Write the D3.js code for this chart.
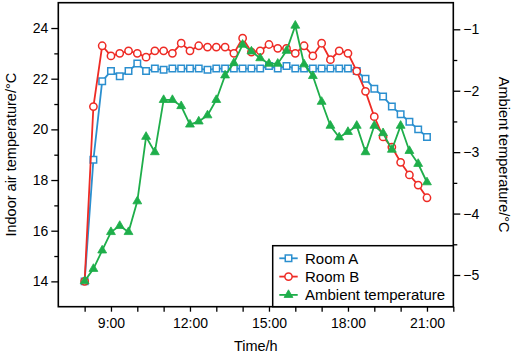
<!DOCTYPE html>
<html>
<head>
<meta charset="utf-8">
<script src="https://cdn.jsdelivr.net/npm/d3@7"></script>
<style>
  body { margin: 0; background: #fff; }
  svg { display: block; font-family: "Liberation Sans", Arial, Helvetica, sans-serif; }
  .axis path, .axis line { stroke: #000; }
  .axis text { font-size: 14px; fill: #000; }
</style>
</head>
<body>
<script>
// time of each reading (every 20 min, 8:00 to 21:00)
const times = ['8:00', '8:20', '8:40', '9:00', '9:20', '9:40', '10:00', '10:20', '10:40',
  '11:00', '11:20', '11:40', '12:00', '12:20', '12:40', '13:00', '13:20', '13:40',
  '14:00', '14:20', '14:40', '15:00', '15:20', '15:40', '16:00', '16:20', '16:40',
  '17:00', '17:20', '17:40', '18:00', '18:20', '18:40', '19:00', '19:20', '19:40',
  '20:00', '20:20', '20:40', '21:00']

const roomA = [14.0, 18.8, 21.9, 22.3, 22.1, 22.3, 22.6, 22.3, 22.4, 22.35,
  22.4, 22.4, 22.4, 22.4, 22.35, 22.4, 22.4, 22.4, 22.4, 22.4,
  22.4, 22.5, 22.4, 22.5, 22.4, 22.4, 22.4, 22.4, 22.4, 22.4,
  22.4, 22.3, 22.0, 21.6, 21.3, 20.9, 20.6, 20.3, 20.0, 19.7]

const roomB = [14.0, 20.9, 23.3, 22.9, 23.0, 23.1, 23.0, 22.85, 23.1, 23.1,
  23.0, 23.4, 23.1, 23.3, 23.25, 23.25, 23.25, 23.0, 23.6, 23.05,
  23.1, 23.35, 23.2, 23.2, 23.0, 23.3, 22.9, 23.4, 22.75, 23.1,
  23.0, 22.3, 21.5, 20.5, 19.7, 19.3, 18.7, 18.2, 17.8, 17.3]

const ambient = [-5.1, -4.9, -4.6, -4.3, -4.2, -4.3, -3.8, -2.75, -3.0, -2.15,
  -2.15, -2.25, -2.55, -2.5, -2.4, -2.15, -1.75, -1.55, -1.25, -1.36,
  -1.47, -1.56, -1.56, -1.35, -0.94, -1.57, -1.76, -2.18, -2.57, -2.76,
  -2.67, -2.57, -3.0, -2.57, -2.69, -2.96, -2.57, -2.98, -3.19, -3.49]

const xTicks = [8, 9, 10, 11, 12, 13, 14, 15, 16, 17, 18, 19, 20, 21, 22]
const xLabels = [9, 12, 15, 18, 21]
const leftMajor = [14, 16, 18, 20, 22, 24]
const leftMinor = [15, 17, 19, 21, 23]
const rightMajor = [-1, -2, -3, -4, -5]
const rightMinor = [-1.5, -2.5, -3.5, -4.5]

const seriesNames = ['Room A', 'Room B', 'Ambient temperature']
const colors = { 'Room A': '#2b8fcf', 'Room B': '#ee2b25', 'Ambient temperature': '#1eae4a' }

const w = 512
const h = 355
const margin = { top: 2.7, right: 58.7, bottom: 48.3, left: 58.3 }
const width = w - margin.left - margin.right
const height = h - margin.top - margin.bottom

const toHours = t => {
  const p = t.split(':')
  return +p[0] + (+p[1]) / 60
}

const svg = d3.select('body').append('svg')
  .attr('width', w)
  .attr('height', h)

const g = svg.append('g').attr('transform', 'translate(' + margin.left + ',' + margin.top + ')')

const x = d3.scaleLinear().domain([7, 22]).range([0, width])
const yL = d3.scaleLinear().domain([13, 25]).range([height, 0])
const yR = d3.scaleLinear().domain([-5.516, -0.567]).range([height, 0])

// axes
g.append('g')
  .attr('class', 'axis')
  .attr('transform', 'translate(0,' + height + ')')
  .call(d3.axisBottom(x).tickValues(xTicks).tickSize(5).tickPadding(6)
    .tickFormat(d => xLabels.includes(d) ? d + ':00' : ''))
  .call(a => a.select('.domain').remove())

g.append('g')
  .attr('class', 'axis')
  .call(d3.axisLeft(yL).tickValues(leftMajor).tickSize(7).tickPadding(3))
  .call(a => a.select('.domain').remove())

g.append('g')
  .attr('class', 'axis')
  .call(d3.axisLeft(yL).tickValues(leftMinor).tickSize(4).tickFormat(''))
  .call(a => a.select('.domain').remove())

g.append('g')
  .attr('class', 'axis')
  .attr('transform', 'translate(' + width + ',0)')
  .call(d3.axisRight(yR).tickValues(rightMajor).tickSize(7).tickPadding(3)
    .tickFormat(d => '\u2212' + Math.abs(d)))
  .call(a => a.select('.domain').remove())

g.append('g')
  .attr('class', 'axis')
  .attr('transform', 'translate(' + width + ',0)')
  .call(d3.axisRight(yR).tickValues(rightMinor).tickSize(4).tickFormat(''))
  .call(a => a.select('.domain').remove())

g.selectAll('.axis line').attr('stroke-width', 1.3)

// frame
g.append('rect')
  .attr('width', width)
  .attr('height', height)
  .attr('fill', 'none')
  .attr('stroke', '#000')
  .attr('stroke-width', 1.6)

// axis titles
svg.append('text')
  .attr('transform', 'translate(16,' + (margin.top + height / 2) + ') rotate(-90)')
  .attr('text-anchor', 'middle')
  .attr('font-size', 14.5)
  .text('Indoor air temperature/°C')

svg.append('text')
  .attr('transform', 'translate(499,' + (margin.top + height / 2) + ') rotate(90)')
  .attr('text-anchor', 'middle')
  .attr('font-size', 14.5)
  .text('Ambient temperature/°C')

svg.append('text')
  .attr('x', margin.left + width / 2)
  .attr('y', 351)
  .attr('text-anchor', 'middle')
  .attr('font-size', 14.5)
  .text('Time/h')

// series
const seriesData = [
  { name: 'Room A', values: roomA, y: yL, marker: 'square' },
  { name: 'Room B', values: roomB, y: yL, marker: 'circle' },
  { name: 'Ambient temperature', values: ambient, y: yR, marker: 'triangle' }
]

const symbolFor = m => m === 'square' ? d3.symbol().type(d3.symbolSquare).size(42)
  : m === 'circle' ? d3.symbol().type(d3.symbolCircle).size(42)
  : d3.symbol().type(d3.symbolTriangle).size(34)

seriesData.forEach(s => {
  const pts = s.values.map((v, i) => ({ t: toHours(times[i]), v: v }))
  const line = d3.line().x(d => x(d.t)).y(d => s.y(d.v))
  g.append('path')
    .datum(pts)
    .attr('d', line)
    .attr('fill', 'none')
    .attr('stroke', colors[s.name])
    .attr('stroke-width', 1.8)
  g.selectAll('.pt-' + s.marker)
    .data(pts)
    .enter().append('path')
    .attr('class', 'pt-' + s.marker)
    .attr('transform', d => 'translate(' + x(d.t) + ',' + s.y(d.v) + ')')
    .attr('d', symbolFor(s.marker))
    .attr('fill', s.marker === 'triangle' ? colors[s.name] : '#fff')
    .attr('stroke', colors[s.name])
    .attr('stroke-width', s.marker === 'triangle' ? 0.8 : 1.5)
})

// legend
const lg = g.append('g').attr('transform', 'translate(' + (272.7 - margin.left) + ',' + (245.7 - margin.top) + ')')
lg.append('rect')
  .attr('width', 453.3 - 272.7)
  .attr('height', 306.7 - 245.7)
  .attr('fill', '#fff')
  .attr('stroke', '#000')
  .attr('stroke-width', 1.5)

seriesData.forEach((s, i) => {
  const row = lg.append('g').attr('transform', 'translate(0,' + (12.6 + i * 18.3) + ')')
  row.append('line')
    .attr('x1', 6.6).attr('x2', 25)
    .attr('stroke', colors[s.name])
    .attr('stroke-width', 1.8)
  row.append('path')
    .attr('transform', 'translate(15.8,0)')
    .attr('d', symbolFor(s.marker))
    .attr('fill', s.marker === 'triangle' ? colors[s.name] : '#fff')
    .attr('stroke', colors[s.name])
    .attr('stroke-width', s.marker === 'triangle' ? 0.8 : 1.5)
  row.append('text')
    .attr('x', 32.3)
    .attr('dy', '0.35em')
    .attr('font-size', 15)
    .text(s.name)
})
</script>
</body>
</html>
